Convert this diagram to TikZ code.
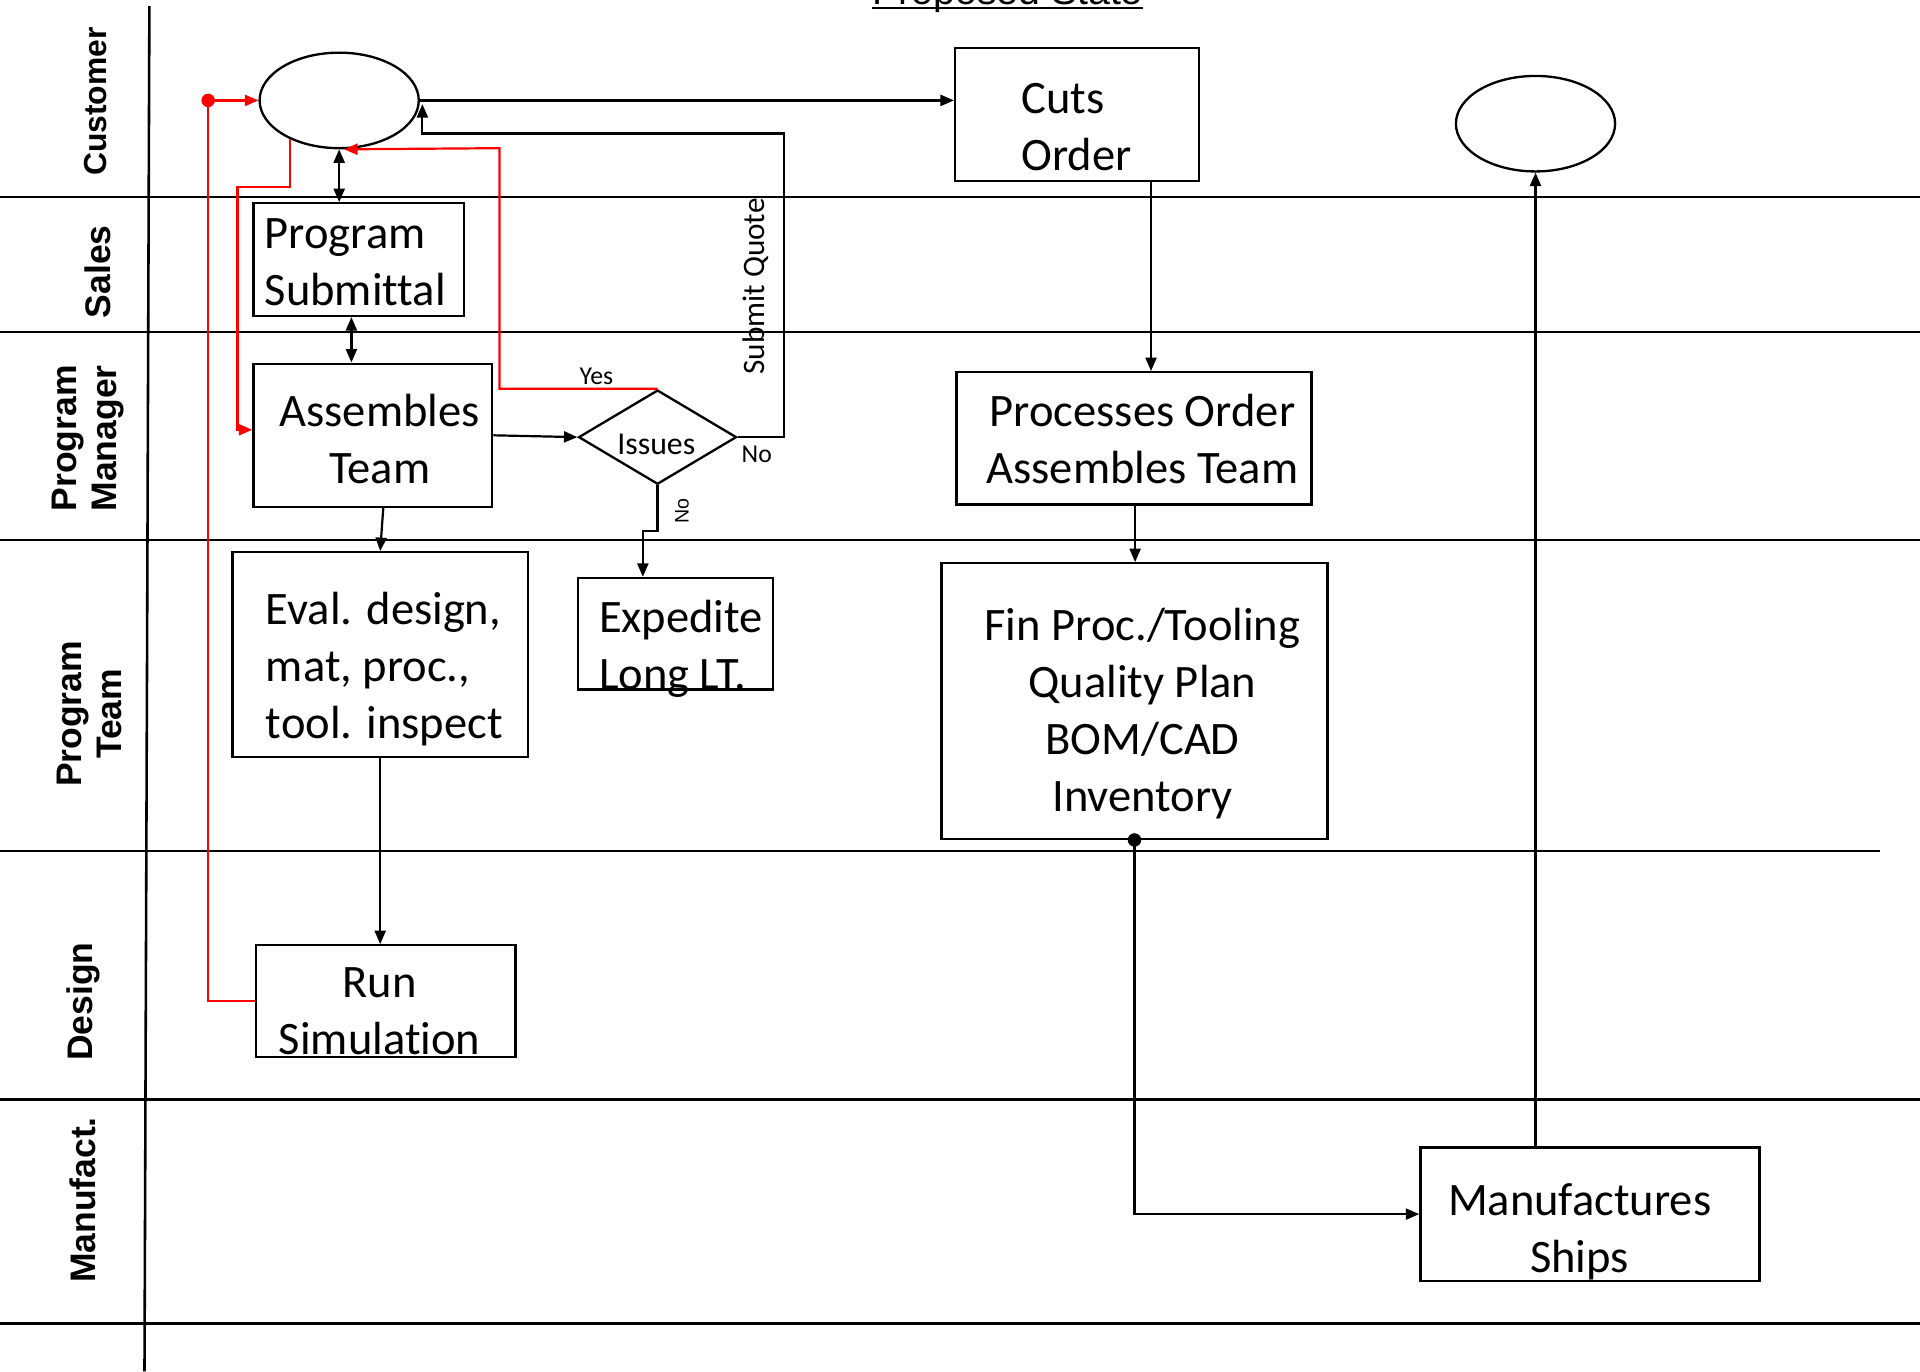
\documentclass[tikz,border=0pt]{standalone}
\usepackage{fontspec}
\setmainfont{Carlito}[Ligatures=NoCommon]
\newfontfamily\arial{Liberation Sans}
\usetikzlibrary{shapes.geometric,arrows.meta,calc}
\begin{document}
\begin{tikzpicture}[x=1pt,y=-1pt,
  box/.style={draw,line width=1.9pt,rectangle,inner sep=0pt},
  oval/.style={draw,line width=1.9pt,ellipse,inner sep=0pt,minimum width=130pt,minimum height=78pt},
  txt/.style={inner sep=0pt,font=\fontsize{38}{46.5}\selectfont},
  lab/.style={inner sep=0pt,font=\fontsize{21}{25}\selectfont},
  lane/.style={line width=2.1pt},
  lanetxt/.style={rotate=90,align=center,inner sep=0pt,font=\arial\bfseries\fontsize{29}{33}\selectfont},
  arr/.style={line width=1.8pt,-{Triangle[length=11pt,width=9pt]}},
  dbl/.style={line width=1.8pt,{Triangle[length=11pt,width=9pt]}-{Triangle[length=11pt,width=9pt]}},
  rarr/.style={arr,red},
]
\useasboundingbox (0,0) rectangle (1568,1120);

% title (cut off at the top, as in the original)
\node[anchor=base,inner sep=0pt,font=\arial\fontsize{32}{36}\selectfont] (title) at (823,4) {Proposed State};
\draw[line width=2.2pt] ([yshift=-2.5pt]title.base west) -- ([yshift=-2.5pt]title.base east);

% swimlane lines
\draw[lane] (122,5) -- (118,1120);
\draw[lane] (0,161) -- (1568,161);
\draw[lane] (0,271) -- (1568,271);
\draw[lane] (0,441) -- (1568,441);
\draw[lane] (0,695) -- (1535,695);
\draw[lane] (0,898) -- (1568,898);
\draw[lane] (0,1081) -- (1568,1081);

% lane labels
\node[lanetxt,font=\arial\bfseries\fontsize{26}{30}\selectfont] (lcust) at (78,83) {Customer};
\node[lanetxt] (lsales) at (80,222) {Sales};
\node[lanetxt] (lpm) at (72,358) {Program\\Manager};
\node[lanetxt] (lpt) at (73,583) {Program\\Team};
\node[lanetxt] (ldes) at (68,818) {Design};
\node[lanetxt] (lman) at (68,980) {Manufact.};

% shapes
\node[oval] (cust1) at (277,82) {};
\node[oval] (cust2) at (1254,101) {};
\node[box,minimum width=199pt,minimum height=109pt] (cuts) at (879.5,93.5) {};
\node[box,minimum width=172pt,minimum height=92pt] (psub) at (293,212) {};
\node[box,minimum width=195pt,minimum height=117pt] (asm) at (304.5,355.5) {};
\node[draw,line width=1.9pt,diamond,inner sep=0pt,aspect=1.675,minimum width=129pt,minimum height=77pt] (iss) at (537,357) {};
\node[box,minimum width=159pt,minimum height=91pt] (exped) at (551.5,517.5) {};
\node[box,minimum width=241pt,minimum height=167pt] (eval) at (310.5,534.5) {};
\node[box,minimum width=212pt,minimum height=91pt] (runsim) at (315,817.5) {};
\node[box,minimum width=290pt,minimum height=108pt] (proc) at (926,358) {};
\node[box,minimum width=315pt,minimum height=225pt] (fin) at (926.5,572.5) {};
\node[box,minimum width=277pt,minimum height=109pt] (manu) at (1298.5,991.5) {};

% texts
\node[txt,anchor=west,align=left] (tcuts) at (834,104) {Cuts\\Order};
\node[txt,anchor=west,align=left] (tpsub) at (216,214.5) {Program\\Submittal};
\node[txt,align=center] (tasm) at (310,358.5) {Assembles\\Team};
\node[inner sep=0pt,font=\fontsize{26}{30}\selectfont] (tiss) at (536,363) {Issues};
\node[txt,anchor=west,align=left] (texp) at (489,530) {Expedite\\Long LT.};
\node[txt,anchor=west,align=left] (teval) at (217,546.5) {Eval. design,\\mat, proc.,\\tool. inspect};
\node[txt,align=center] (trun) at (310,826) {Run\\Simulation};
\node[txt,align=center] (tproc) at (933,358.5) {Processes Order\\Assembles Team};
\node[txt,align=center] (tfin) at (933,583) {Fin Proc./Tooling\\Quality Plan\\BOM/CAD\\Inventory};
\node[txt,align=center] (tmanu) at (1290,1006) {Manufactures\\Ships};

% black connectors
\draw[arr] (cust1.east) -- (cust1.east -| cuts.west);
\coordinate (sq) at (640,109);
\draw[arr] (iss.east) -| (sq) -- ([xshift=2pt]sq -| cust1.east) -- ([xshift=2pt,yshift=-3pt]cust1.east);
\node[lab,rotate=90,font=\fontsize{25.5}{30}\selectfont] (lsq) at (617,234) {Submit Quote};
\node[lab] (lno1) at (618,371) {No};
\draw[dbl] (cust1.south) -- (cust1.south |- psub.north);
\draw[dbl] ([xshift=-6pt]psub.south) -- ([xshift=-6pt]psub.south |- asm.north);
\draw[arr] (asm.east) -- (iss.west);
\draw[arr] ([xshift=8.5pt]asm.south) -- (eval.north);
\draw[arr] (iss.south) -- ++(0,37) -| ([xshift=-26.5pt]exped.north);
\node[inner sep=0pt,rotate=90,font=\arial\fontsize{16}{18}\selectfont] (lno2) at (557,417) {No};
\draw[arr] (eval.south) -- (eval.south |- runsim.north);
\draw[arr] ([xshift=60.5pt]cuts.south) -- ([xshift=60.5pt]cuts.south |- proc.north);
\draw[arr] ([xshift=1pt]proc.south) -- ([xshift=1pt]proc.south |- fin.north);
\draw[arr] (fin.south) |- (manu.west);
\fill (fin.south) circle (5.5);
\draw[arr] ([xshift=-44.5pt]manu.north) -- (cust2.south);

% red connectors
\coordinate (yc) at (408,121);
\draw[rarr] (iss.north) -| (yc) -- ([xshift=4pt]cust1.south);
\node[lab] (lyes) at (487,307) {Yes};
\coordinate (r2) at (194,153);
\draw[rarr] (cust1.218) |- (r2) |- ([yshift=4.5pt]asm.west);
\coordinate (rd) at (170,82);
\draw[rarr] (runsim.west) -| (rd) -- (cust1.west);
\fill[red] (rd) circle (5.5);
\end{tikzpicture}
\end{document}
